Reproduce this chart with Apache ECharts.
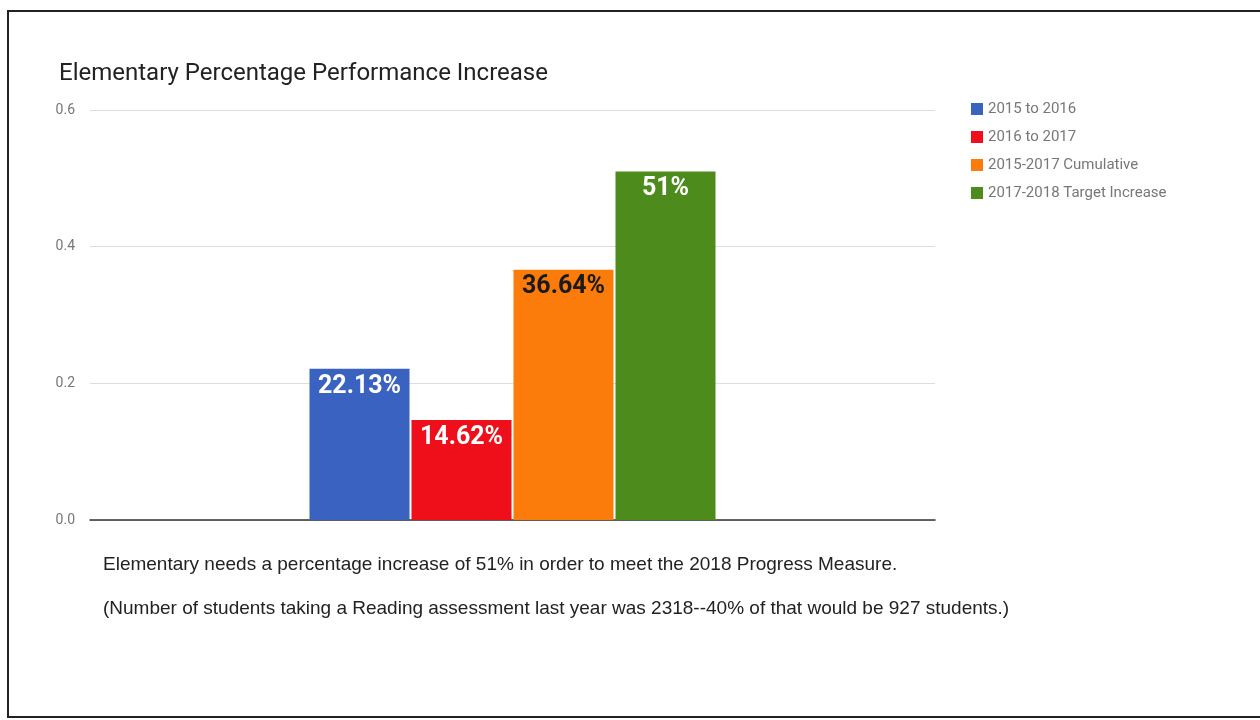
<!DOCTYPE html>
<html>
<head>
<meta charset="utf-8">
<script src="https://cdn.jsdelivr.net/npm/echarts@6/dist/echarts.min.js"></script>
<style>
  html, body { margin: 0; padding: 0; background: #fff; }
  #chart { width: 1260px; height: 720px; }
</style>
</head>
<body>
<div id="chart"></div>
<script>
// data
const categories = ['Elementary']
const seriesNames = ['2015 to 2016', '2016 to 2017', '2015-2017 Cumulative', '2017-2018 Target Increase']
const seriesValues = [0.2213, 0.1462, 0.3664, 0.51]
const valueLabels = ['22.13%', '14.62%', '36.64%', '51%']
const yTicks = [0, 0.2, 0.4, 0.6]
const noteLines = [
  'Elementary needs a percentage increase of 51% in order to meet the 2018 Progress Measure.',
  '(Number of students taking a Reading assessment last year was 2318--40% of that would be 927 students.)',
]

const colors = ['#3a62c0', '#ee0f1b', '#fb7b0b', '#4d8c1c']
const labelColors = ['#fff', '#fff', '#1a1a1a', '#fff']

const chart = echarts.init(document.getElementById('chart'))

const option = {
  animation: false,
  color: colors,
  title: {
    text: 'Elementary Percentage Performance Increase',
    left: 54,
    top: 57,
    textStyle: {
      color: '#222',
      fontSize: 24,
      fontWeight: 'normal',
      fontFamily: 'Roboto',
    },
  },
  legend: {
    orient: 'vertical',
    left: 966,
    top: 96,
    itemWidth: 12,
    itemHeight: 12,
    itemGap: 12,
    icon: 'rect',
    data: seriesNames,
    textStyle: {
      color: '#777',
      fontSize: 15,
      lineHeight: 16,
      fontFamily: 'Roboto',
    },
  },
  grid: {
    left: 90,
    right: 325,
    top: 110,
    bottom: 200,
  },
  xAxis: {
    type: 'category',
    data: categories,
    axisLine: { lineStyle: { color: '#333', width: 1.5 } },
    axisTick: { show: false },
    axisLabel: { show: false },
  },
  yAxis: {
    type: 'value',
    min: yTicks[0],
    max: yTicks[yTicks.length - 1],
    interval: 0.2,
    axisLine: { show: false },
    axisTick: { show: false },
    axisLabel: {
      color: '#777',
      fontSize: 14,
      fontFamily: 'Roboto',
      margin: 15,
      formatter: (v) => v.toFixed(1),
    },
    splitLine: { lineStyle: { color: '#ddd' } },
  },
  series: seriesNames.map((name, i) => ({
    name: name,
    type: 'bar',
    barWidth: 100,
    barGap: '2%',
    data: [seriesValues[i]],
    label: {
      show: true,
      position: 'insideTop',
      distance: 5,
      formatter: valueLabels[i],
      color: labelColors[i],
      fontSize: 25,
      fontWeight: 'bold',
      fontFamily: 'Roboto',
    },
  })),
  graphic: [
    {
      type: 'rect',
      shape: { x: 8, y: 11, width: 1270, height: 706 },
      style: { fill: 'none', stroke: '#222', lineWidth: 2 },
    },
    {
      type: 'text',
      left: 103,
      top: 555,
      style: { text: noteLines[0], fill: '#222', fontSize: 19, fontFamily: 'Liberation Sans' },
    },
    {
      type: 'text',
      left: 103,
      top: 599,
      style: { text: noteLines[1], fill: '#222', fontSize: 19, fontFamily: 'Liberation Sans' },
    },
  ],
}

chart.setOption(option)
</script>
</body>
</html>
